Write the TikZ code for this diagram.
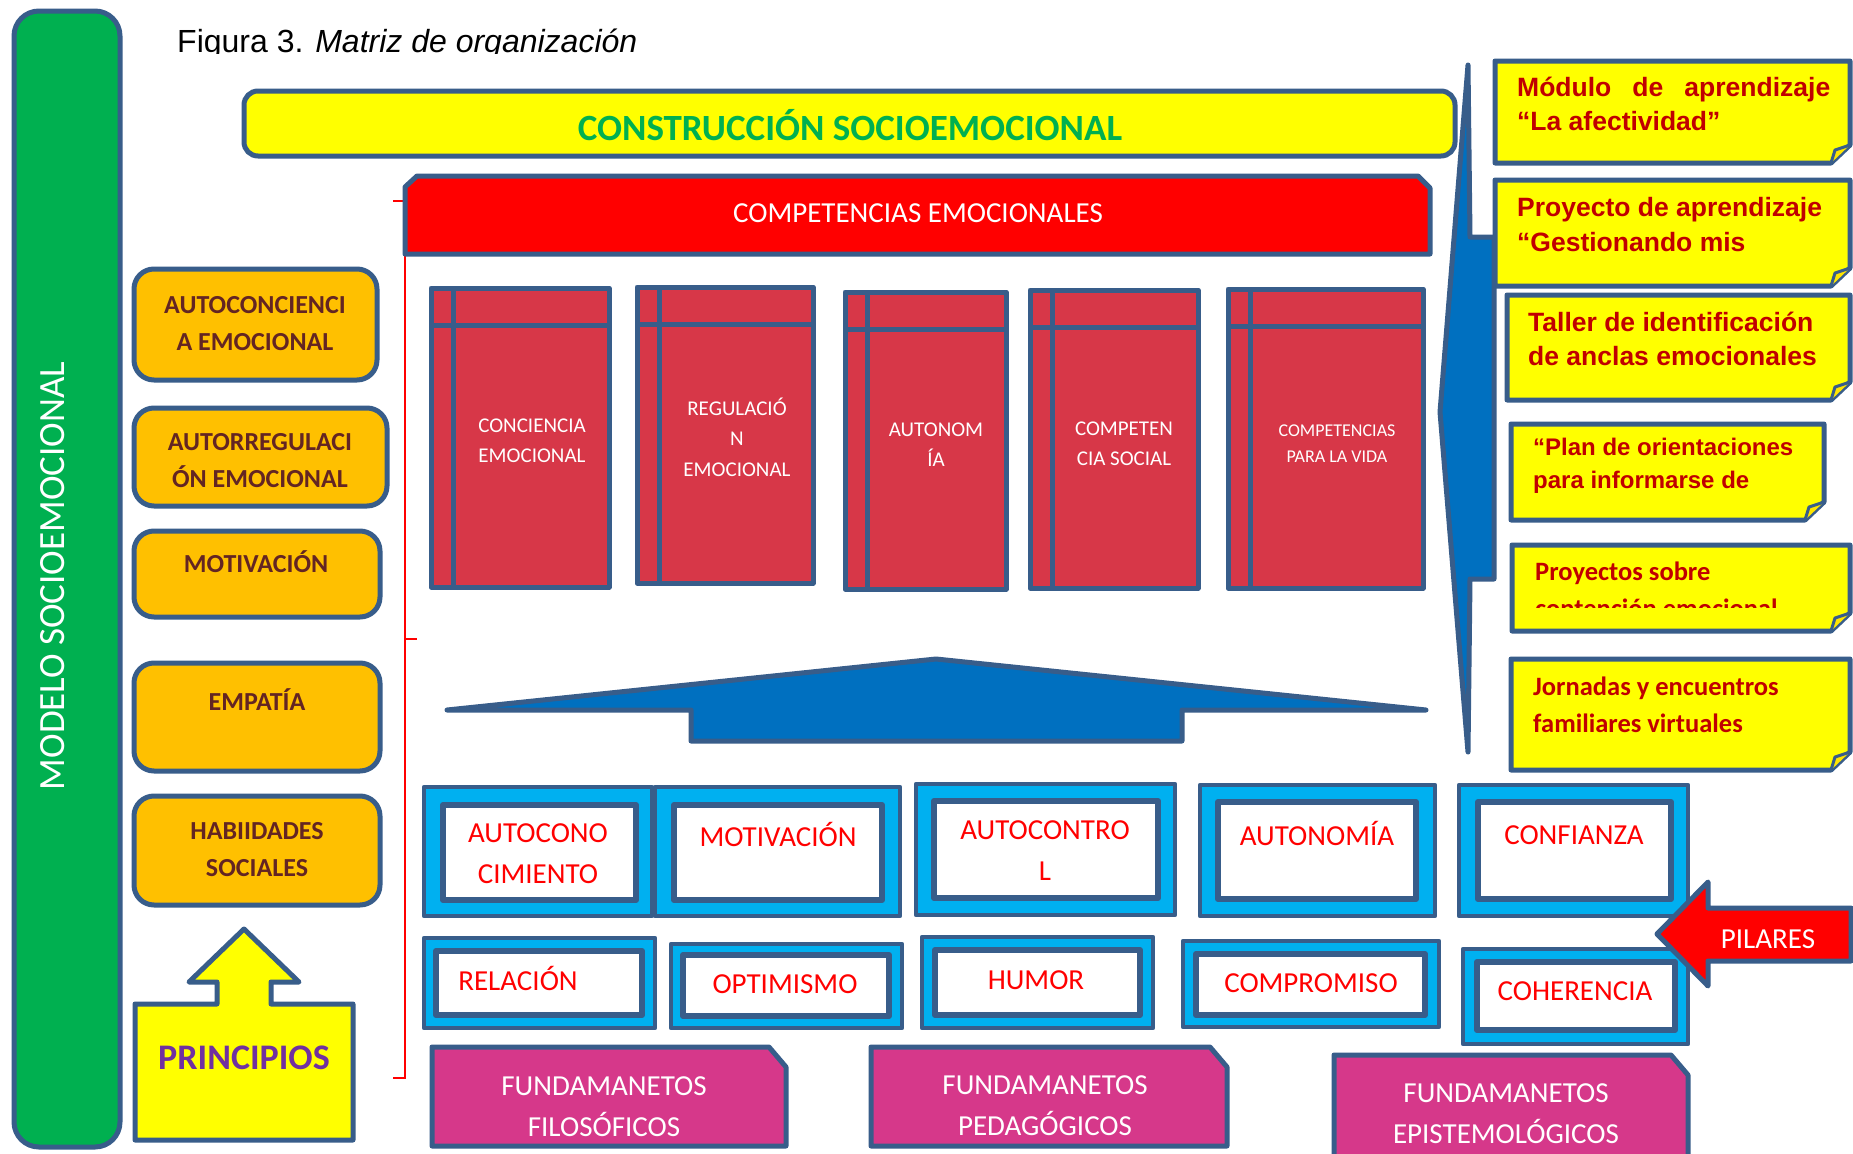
\documentclass[tikz,border=0pt]{standalone}
\usepackage{fontspec}
\setmainfont{Carlito}
\newfontfamily\arialf{Liberation Sans}
\definecolor{olc}{RGB}{56,93,138}
\definecolor{grn}{RGB}{0,176,80}
\definecolor{org}{RGB}{255,192,0}
\definecolor{brn}{RGB}{99,37,35}
\definecolor{ylw}{RGB}{255,255,0}
\definecolor{rd}{RGB}{255,0,0}
\definecolor{crd}{RGB}{215,55,72}
\definecolor{blu}{RGB}{0,112,192}
\definecolor{cyn}{RGB}{0,176,240}
\definecolor{mag}{RGB}{214,56,138}
\definecolor{drd}{RGB}{192,0,0}
\definecolor{prp}{RGB}{112,48,160}
\newcommand\cst{\rule[-0.368em]{0pt}{1.368em}}
\newcommand\aqs{\rule[-0.23em]{0pt}{1.176em}}
\tikzset{
  ol/.style={draw=olc, line width=5pt, line join=round},
  txt/.style={inner sep=0pt, align=center},
  obox/.style={ol, fill=org, rounded corners=20pt},
  otxt/.style={txt, text=brn, font=\bfseries\fontsize{26}{37}\selectfont},
  ctxt/.style={txt, text=white, font=\fontsize{21}{30.5}\selectfont},
  ptxt/.style={txt, text=rd, font=\fontsize{29}{41}\selectfont},
  ftxt/.style={txt, text=white, font=\fontsize{29}{41}\selectfont},
  natxt/.style={anchor=west, inner sep=0pt, align=left, text=drd, font=\arialf\bfseries\fontsize{26.5}{34.5}\selectfont},
  nctxt/.style={anchor=west, inner sep=0pt, align=left, text=drd, font=\bfseries\fontsize{26.5}{37}\selectfont},
}
\newcommand\stickynote[4]{%
  \draw[ol, fill=ylw] (#1,#2) -- (#3,#2) -- (#3,{#4-18}) -- ({#3-19},#4) -- (#1,#4) -- cycle;
  \draw[draw=olc, line width=3pt, line join=round, fill=ylw!80!orange] ({#3-19},#4) -- ({#3-15},{#4-13}) -- (#3,{#4-18});}
\newcommand\compbox[4]{%
  \draw[ol, fill=crd] (#1,#2) rectangle (#3,#4);
  \draw[ol] ({#1+22},#2) -- ({#1+22},#4);
  \draw[ol] (#1,{#2+37}) -- (#3,{#2+37});}
\newcommand\pillar[8]{%
  \draw[ol, line width=4.5pt, fill=cyn] (#1,#2) rectangle (#3,#4);
  \draw[ol, line width=6pt, fill=white] (#5,#6) rectangle (#7,#8);}
\newcommand\fundbox[4]{%
  \draw[ol, fill=mag] (#1,#2) -- ({#3-17},#2) -- (#3,{#2+20}) -- (#3,#4) -- (#1,#4) -- cycle;}
\begin{document}
\begin{tikzpicture}[x=1pt,y=-1pt]
\clip (0,0) rectangle (1853,1154);
\fill[white] (0,0) rectangle (1853,1154);
% green bar
\draw[ol, fill=grn, rounded corners=25pt] (14,11) rectangle (120,1147);
% title
\begin{scope}
\clip (0,0) rectangle (1853,53);
\node[anchor=base west, inner sep=0pt, font=\arialf\fontsize{32}{36}\selectfont] (fig) at (177,52) {Figura 3. \textit{Matriz de organización}};
\end{scope}
% yellow bar
\draw[ol, fill=ylw, rounded corners=14pt] (244,91) rectangle (1455,156);
% red brace
\draw[rd, line width=2pt] (393,201) -- (405,201) -- (405,1078) -- (393,1078);
\draw[rd, line width=2pt] (405,639) -- (417,639);
% red banner
\draw[ol, fill=rd] (405,187) -- (417,176) -- (1418,176) -- (1430,188) -- (1430,254) -- (405,254) -- cycle;
% competence boxes
\compbox{431}{288}{609}{587}
\compbox{637}{287}{813}{583}
\compbox{845}{292}{1006}{589}
\compbox{1030}{290}{1198}{588}
\compbox{1228}{289}{1423}{588}
% roof arrow
\draw[ol, fill=blu] (447,710) -- (936,659) -- (1426,710) -- (1182,710) -- (1182,741) -- (691,741) -- (691,710) -- cycle;
% right blue brace shape
\draw[ol, fill=blu] (1468,65) -- (1470,237) -- (1494,237) -- (1494,579) -- (1470,579) -- (1468,752) -- (1440,412) -- cycle;
% sticky notes
\stickynote{1495}{61}{1850}{163}
\stickynote{1495}{180}{1850}{286}
\stickynote{1507}{295}{1850}{400}
\stickynote{1511}{424}{1824}{520}
\stickynote{1512}{545}{1850}{631}
\stickynote{1511}{659}{1850}{770}
% orange boxes
\draw[obox] (134,269) rectangle (377,380);
\draw[obox] (134,408) rectangle (387,506);
\draw[obox] (134,531) rectangle (380,617);
\draw[obox] (134,663) rectangle (380,771);
\draw[obox] (134,796) rectangle (380,905);
% principios arrow
\draw[ol, fill=ylw] (135,1004) -- (217,1004) -- (217,982) -- (189,982) -- (244,929) -- (299,982) -- (271,982) -- (271,1004) -- (353,1004) -- (353,1140) -- (135,1140) -- cycle;
% pillars row 1
\pillar{424}{787}{652}{916}{443}{805}{636}{900}
\pillar{655}{787}{900}{916}{674}{805}{882}{900}
\pillar{916}{784}{1175}{915}{934}{801}{1158}{898}
\pillar{1200}{785}{1435}{916}{1218}{802}{1416}{899}
\pillar{1459}{785}{1688}{916}{1478}{802}{1671}{899}
% pillars row 2
\pillar{424}{938}{655}{1028}{436}{951}{642}{1015}
\pillar{671}{944}{902}{1028}{683}{955}{889}{1016}
\pillar{922}{937}{1153}{1028}{935}{950}{1140}{1015}
\pillar{1183}{941}{1439}{1027}{1196}{954}{1425}{1015}
\pillar{1463}{949}{1688}{1044}{1477}{962}{1675}{1030}
% fundamentos
\fundbox{432}{1047}{786}{1146}
\fundbox{871}{1047}{1227}{1146}
\fundbox{1334}{1055}{1688}{1170}
% pilares arrow
\draw[ol, fill=rd] (1657,934) -- (1708,882) -- (1708,908) -- (1851,908) -- (1851,961) -- (1708,961) -- (1708,986) -- cycle;

% ---- texts ----
\node[txt, text=white, rotate=90, font=\fontsize{37}{40}\selectfont] (modelo) at (53,576) {\cst MODELO SOCIOEMOCIONAL};
\node[txt, text=grn, font=\bfseries\fontsize{37}{40}\selectfont] (cons) at (850,129) {\cst CONSTRUCCIÓN SOCIOEMOCIONAL};
\node[txt, text=white, font=\fontsize{29}{34}\selectfont] (compem) at (918,213) {\cst COMPETENCIAS EMOCIONALES};

\node[ctxt] (ce1) at (532,441) {\cst CONCIENCIA\\\cst EMOCIONAL};
\node[ctxt] (ce2) at (737,439) {\cst REGULACIÓ\\\cst N\\\cst EMOCIONAL};
\node[ctxt] (ce3) at (936,445) {\cst AUTONOM\\\cst ÍA};
\node[ctxt] (ce4) at (1124,444) {\cst COMPETEN\\\cst CIA SOCIAL};
\node[ctxt, font=\fontsize{18}{26}\selectfont] (ce5) at (1337,444) {\cst COMPETENCIAS\\\cst PARA LA VIDA};

\node[otxt] (o1) at (255,323.5) {\cst AUTOCONCIENCI\\\cst A EMOCIONAL};
\node[otxt] (o2) at (260,461) {\cst AUTORREGULACI\\\cst ÓN EMOCIONAL};
\node[otxt] (o3) at (256,564) {\cst MOTIVACIÓN};
\node[otxt] (o4) at (257,702) {\cst EMPATÍA};
\node[otxt] (o5) at (257,850) {\cst HABIIDADES\\\cst SOCIALES};
\node[txt, text=prp, font=\bfseries\fontsize{36}{40}\selectfont] (princ) at (244,1058) {\cst PRINCIPIOS};

\node[ptxt] (p1) at (538,854) {\cst AUTOCONO\\\cst CIMIENTO};
\node[ptxt] (p2) at (778,837) {\cst MOTIVACIÓN};
\node[ptxt] (p3) at (1045,851) {\cst AUTOCONTRO\\\cst L};
\node[ptxt] (p4) at (1317,836) {\cst AUTONOMÍA};
\node[ptxt] (p5) at (1574,835) {\cst CONFIANZA};
\node[ptxt] (p6) at (518,981) {\cst RELACIÓN};
\node[ptxt] (p7) at (785,984) {\cst OPTIMISMO};
\node[ptxt] (p8) at (1036,980) {\cst HUMOR};
\node[ptxt] (p9) at (1311,983) {\cst COMPROMISO};
\node[ptxt] (p10) at (1575,991) {\cst COHERENCIA};

\node[ftxt] (f1) at (604,1106.5) {\cst FUNDAMANETOS\\\cst FILOSÓFICOS};
\node[ftxt] (f2) at (1045,1105.5) {\cst FUNDAMANETOS\\\cst PEDAGÓGICOS};
\node[ftxt] (f3) at (1506,1114) {\cst FUNDAMANETOS\\\cst EPISTEMOLÓGICOS};

\node[txt, text=white, font=\fontsize{29}{34}\selectfont] (pil) at (1768,939) {\cst PILARES};

\node[natxt] (n1) at (1517,104) {\makebox[313pt][s]{\aqs Módulo de aprendizaje}\\\aqs “La afectividad”};
\node[natxt] (n2) at (1517,224.5) {\aqs Proyecto de aprendizaje\\\aqs “Gestionando mis};
\node[natxt] (n3) at (1528,339) {\aqs Taller de identificación\\\aqs de anclas emocionales};
\node[natxt, font=\arialf\bfseries\fontsize{24}{33}\selectfont] (n4) at (1533,463.5) {\aqs “Plan de orientaciones\\\aqs para informarse de};
\begin{scope}
\clip (1500,540) rectangle (1850,607);
\node[nctxt] (n5) at (1535,591) {\cst Proyectos sobre\\\cst contención emocional};
\end{scope}
\node[nctxt] (n6) at (1533,706) {\cst Jornadas y encuentros\\\cst familiares virtuales};
\end{tikzpicture}
\end{document}
